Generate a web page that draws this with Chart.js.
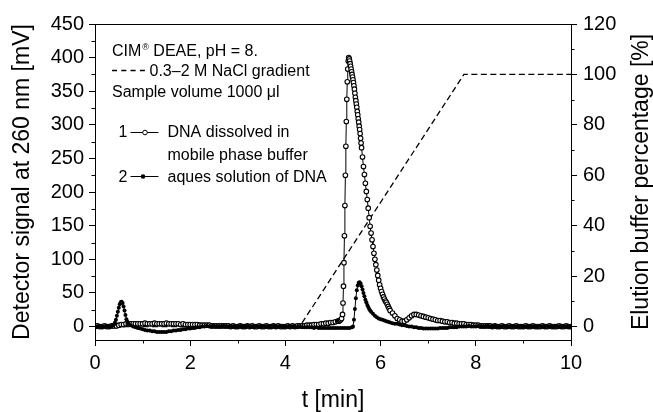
<!DOCTYPE html>
<html><head><meta charset="utf-8">
<script src="https://cdn.jsdelivr.net/npm/chart.js@4"></script>
<style>html,body{margin:0;padding:0;background:#fff}#wrap{width:653px;height:412px;position:relative}</style>
</head><body><div id="wrap"><canvas id="c"></canvas></div>
<script>
// ---- Tick labels ----
const xTicks = [0, 2, 4, 6, 8, 10];
const xMinor = [1, 3, 5, 7, 9];
const yTicks = [0, 50, 100, 150, 200, 250, 300, 350, 400, 450];
const yMinor = [25, 75, 125, 175, 225, 275, 325, 375, 425];
const y2Ticks = [0, 20, 40, 60, 80, 100, 120];
const y2Minor = [10, 30, 50, 70, 90, 110];
const rightTitle = 'Elution buffer percentage [%]';

// ---- Series 1: DNA dissolved in mobile phase buffer (open circles) ----
const t1 = [
0,0.05,0.1,0.15,0.2,0.25,0.3,0.35,0.4,0.45,
0.5,0.55,0.6,0.65,0.7,0.75,0.8,0.85,0.9,0.95,
1,1.05,1.1,1.15,1.2,1.25,1.3,1.35,1.4,1.45,
1.5,1.55,1.6,1.65,1.7,1.75,1.8,1.85,1.9,1.95,
2,2.05,2.1,2.15,2.2,2.25,2.3,2.35,2.4,2.45,
2.5,2.55,2.6,2.65,2.7,2.75,2.8,2.85,2.9,2.95,
3,3.05,3.1,3.15,3.2,3.25,3.3,3.35,3.4,3.45,
3.5,3.55,3.6,3.65,3.7,3.75,3.8,3.85,3.9,3.95,
4,4.05,4.1,4.15,4.2,4.25,4.3,4.35,4.4,4.45,
4.5,4.55,4.6,4.65,4.7,4.75,4.8,4.85,4.9,4.95,
5,5.05,5.1,
5.12,5.14,5.16,5.18,5.2,
5.21,5.22,5.23,5.24,5.25,5.26,5.27,5.28,5.29,5.3,
5.31,5.32,5.33,5.34,5.35,5.36,5.37,5.38,5.39,5.4,
5.41,5.42,5.43,5.44,5.45,5.46,5.47,5.48,5.49,5.5,
5.51,5.52,5.53,5.54,5.55,5.56,5.57,5.58,5.59,5.6,
5.62,5.64,5.66,5.68,5.7,5.72,5.74,5.76,5.78,5.8,
5.82,5.84,5.86,5.88,5.9,5.92,5.94,5.96,5.98,6,
6.02,6.04,6.06,6.08,6.1,6.12,6.14,6.16,6.18,6.2,
6.25,6.3,6.35,6.4,6.45,6.5,6.55,6.6,6.65,6.7,
6.75,6.8,6.85,6.9,6.95,7,7.05,7.1,7.15,7.2,
7.25,7.3,7.35,7.4,7.45,7.5,7.55,7.6,7.65,7.7,
7.75,7.8,7.85,7.9,7.95,8,8.05,8.1,8.15,8.2,
8.25,8.3,8.35,8.4,8.45,8.5,8.55,8.6,8.65,8.7,
8.75,8.8,8.85,8.9,8.95,9,9.05,9.1,9.15,9.2,
9.25,9.3,9.35,9.4,9.45,9.5,9.55,9.6,9.65,9.7,
9.75,9.8,9.85,9.9,9.95,10];
const v1 = [
0,1,0,0,1,0,0,1,1,1,
2,3,3,4,4,4,4,4,4,4,
4,5,4,4,4,5,4,4,4,4,
5,4,4,4,4,4,3,4,3,3,
3,3,3,3,2,2,2,2,2,1,
1,1,1,1,1,1,1,0,1,0,
0,1,0,0,1,0,1,0,0,1,
0,0,1,0,0,1,0,1,0,0,
0,1,0,1,0,1,1,1,1,2,
2,2,3,3,3,4,4,5,5,6,
6,7,8,
8,9,10,12,18,
35,60,95,135,180,225,268,305,338,364,
383,395,400,398,395,391,387,383,379,375,
371,367,363,358,353,347,341,336,331,326,
320,315,309,304,298,293,287,280,273,266,
252,238,226,213,201,189,176,162,149,139,
129,119,109,100,92,84,76,69,62,57,
52,48,44,41,38,36,33,30,27,24,
20,16,12,10,8,8,10,13,16,18,
18,17,16,15,14,13,12,11,10,9,
9,8,7,7,6,6,5,5,4,4,
4,3,3,3,2,2,2,1,1,1,
1,1,0,1,0,0,1,0,0,1,
0,0,1,0,0,0,1,0,0,1,
0,0,0,1,0,0,1,0,0,0,
1,0,0,1,0,0];

// ---- Series 2: aqueous solution of DNA (filled dots) ----
const t2 = [
0,0.05,0.1,0.15,0.2,0.25,0.3,0.35,
0.38,0.4,0.42,0.44,0.46,0.48,0.5,0.52,0.54,0.56,0.58,0.6,0.62,0.64,0.66,0.68,0.7,
0.75,0.8,0.85,0.9,0.95,
1,1.05,1.1,1.15,1.2,1.25,1.3,1.35,1.4,1.45,
1.5,1.55,1.6,1.65,1.7,1.75,1.8,1.85,1.9,1.95,
2,2.05,2.1,2.15,2.2,2.25,2.3,2.35,2.4,2.45,
2.5,2.55,2.6,2.65,2.7,2.75,2.8,2.85,2.9,2.95,
3,3.05,3.1,3.15,3.2,3.25,3.3,3.35,3.4,3.45,
3.5,3.55,3.6,3.65,3.7,3.75,3.8,3.85,3.9,3.95,
4,4.05,4.1,4.15,4.2,4.25,4.3,4.35,4.4,4.45,
4.5,4.55,4.6,4.65,4.7,4.75,4.8,4.85,4.9,4.95,
5,5.05,5.1,5.15,5.2,5.25,5.3,5.35,5.4,
5.42,5.44,5.46,5.48,5.5,5.52,5.54,5.56,5.58,5.6,
5.62,5.64,5.66,5.68,5.7,5.72,5.74,5.76,5.78,5.8,
5.84,5.88,5.92,5.96,6,6.04,6.08,6.12,6.16,6.2,
6.25,6.3,6.35,6.4,6.45,6.5,6.55,6.6,6.65,6.7,
6.75,6.8,6.85,6.9,6.95,7,7.05,7.1,7.15,7.2,
7.25,7.3,7.35,7.4,7.45,7.5,7.55,7.6,7.65,7.7,
7.75,7.8,7.85,7.9,7.95,8,8.05,8.1,8.15,8.2,
8.25,8.3,8.35,8.4,8.45,8.5,8.55,8.6,8.65,8.7,
8.75,8.8,8.85,8.9,8.95,9,9.05,9.1,9.15,9.2,
9.25,9.3,9.35,9.4,9.45,9.5,9.55,9.6,9.65,9.7,
9.75,9.8,9.85,9.9,9.95,10];
const v2 = [
0,0,1,0,0,1,0,1,
2,3,6,10,16,22,28,33,36,37,35,30,24,17,11,7,4,
2,0,-1,-2,-3,
-4,-5,-6,-6,-7,-7,-8,-8,-8,-8,
-8,-7,-7,-6,-6,-5,-5,-4,-4,-3,
-3,-2,-2,-1,-1,0,0,1,0,0,
1,0,0,0,1,0,0,1,0,0,
0,1,0,0,1,0,0,0,1,0,
0,1,0,0,0,1,0,0,1,0,
0,0,1,0,0,-1,0,-1,-1,-1,
-1,-1,-2,-1,-2,-2,-2,-2,-2,-2,
-2,-2,-2,-2,-2,-2,-2,-2,-1,
0,10,26,42,54,61,65,66,64,60,
55,50,45,40,36,32,29,26,24,22,
19,16,14,12,11,10,9,8,7,6,
5,4,4,3,2,2,1,0,0,-1,
-1,-2,-2,-3,-3,-3,-3,-3,-3,-3,
-2,-2,-2,-2,-1,-1,-1,-1,0,0,
0,0,1,0,0,0,1,0,0,0,
1,0,0,1,0,0,0,1,0,0,
0,1,0,0,1,0,0,0,1,0,
0,0,1,0,0,1,0,0,0,1,
0,0,1,0,0,0];

// ---- Gradient (right axis, %) ----
const tG = [0, 4.3, 7.75, 10];
const vG = [0, 0, 100, 100];

const pts = (t, v) => t.map((x, i) => ({x: x, y: v[i]}));
const FONT = "'Liberation Sans', Arial, Helvetica, sans-serif";

const decor = {
  id: 'decor',
  afterDraw(chart) {
    const {ctx, chartArea: a, scales} = chart;
    ctx.save();
    ctx.strokeStyle = '#000'; ctx.lineWidth = 1;
    ctx.beginPath();
    ctx.moveTo(a.left, a.top + 0.5); ctx.lineTo(a.right, a.top + 0.5);
    xMinor.forEach(v => { const p = Math.round(scales.x.getPixelForValue(v)) + 0.5; ctx.moveTo(p, a.bottom); ctx.lineTo(p, a.bottom + 3.5); });
    yMinor.forEach(v => { const p = Math.round(scales.y.getPixelForValue(v)) + 0.5; ctx.moveTo(a.left, p); ctx.lineTo(a.left - 3.5, p); });
    y2Minor.forEach(v => { const p = Math.round(scales.y2.getPixelForValue(v)) + 0.5; ctx.moveTo(a.right, p); ctx.lineTo(a.right + 3.5, p); });
    ctx.stroke();

    // right axis title, reading bottom-to-top
    ctx.save();
    ctx.font = '23px ' + FONT;
    ctx.fillStyle = '#000';
    ctx.textAlign = 'center'; ctx.textBaseline = 'middle';
    ctx.translate(642, (a.top + a.bottom) / 2);
    ctx.rotate(-Math.PI / 2);
    ctx.fillText(rightTitle, 0, 0);
    ctx.restore();

    // annotation / legend
    ctx.fillStyle = '#000';
    ctx.textBaseline = 'alphabetic';
    ctx.font = '16px ' + FONT;
    ctx.fillText('CIM', 112, 56);
    const w = ctx.measureText('CIM').width;
    ctx.font = '9px ' + FONT;
    ctx.fillText('®', 112 + w + 1, 50);
    ctx.font = '16px ' + FONT;
    ctx.fillText('DEAE, pH = 8.', 112 + w + 12, 56);

    ctx.save();
    ctx.lineWidth = 1.5; ctx.setLineDash([5, 4.3]);
    ctx.beginPath(); ctx.moveTo(112, 70.5); ctx.lineTo(146, 70.5); ctx.stroke();
    ctx.restore();
    ctx.fillText('0.3–2 M NaCl gradient', 149.5, 76);
    ctx.fillText('Sample volume 1000 μl', 112, 97);

    ctx.fillText('1', 118.5, 137);
    ctx.beginPath(); ctx.moveTo(130.5, 132.5); ctx.lineTo(158.5, 132.5); ctx.stroke();
    ctx.beginPath(); ctx.arc(145, 132.5, 2.3, 0, Math.PI * 2); ctx.fillStyle = '#fff'; ctx.fill(); ctx.stroke();
    ctx.fillStyle = '#000';
    ctx.fillText('DNA dissolved in', 167.5, 137);
    ctx.fillText('mobile phase buffer', 167.5, 160);

    ctx.fillText('2', 118.5, 182);
    ctx.beginPath(); ctx.moveTo(130.5, 176.5); ctx.lineTo(158.5, 176.5); ctx.stroke();
    ctx.beginPath(); ctx.arc(143, 176.5, 2.3, 0, Math.PI * 2); ctx.fill();
    ctx.fillText('aques solution of DNA', 167.5, 182);
    ctx.restore();
  }
};

const tickFont = {family: FONT, size: 20};
const titleFont = {family: FONT, size: 23, lineHeight: 1};

new Chart(document.getElementById('c'), {
  type: 'line',
  data: {
    datasets: [
      { label: 'DNA dissolved in mobile phase buffer', data: pts(t1, v1), yAxisID: 'y',
        borderColor: '#000', borderWidth: 1, pointRadius: 2.3, pointBorderWidth: 1.1,
        pointBackgroundColor: '#fff', pointBorderColor: '#000', tension: 0, order: 2 },
      { label: 'aques solution of DNA', data: pts(t2, v2), yAxisID: 'y',
        borderColor: '#000', borderWidth: 1, pointRadius: 2, pointBorderWidth: 0,
        pointBackgroundColor: '#000', tension: 0, order: 1 },
      { label: '0.3–2 M NaCl gradient', data: pts(tG, vG), yAxisID: 'y2',
        borderColor: '#000', borderWidth: 1.3, borderDash: [6, 3.5], pointRadius: 0,
        tension: 0, order: 3 }
    ]
  },
  options: {
    responsive: true, maintainAspectRatio: false, animation: false,
    layout: { padding: { top: 24, left: 0, right: 0, bottom: 0 } },
    plugins: { legend: { display: false }, tooltip: { enabled: false } },
    scales: {
      x: {
        type: 'linear', position: 'bottom', min: 0, max: 10,
        afterBuildTicks: s => { s.ticks = xTicks.map(v => ({value: v})); },
        afterFit: s => { s.height = 72; },
        ticks: { font: tickFont, color: '#000', padding: 5, maxRotation: 0, autoSkip: false },
        grid: { drawOnChartArea: false, drawTicks: true, tickLength: 6, tickColor: '#000' },
        border: { color: '#000', width: 1 },
        title: { display: true, text: 't [min]', font: titleFont, color: '#000', padding: { top: 0, bottom: 0 } }
      },
      y: {
        type: 'linear', position: 'left', min: -20, max: 450,
        afterBuildTicks: s => { s.ticks = yTicks.map(v => ({value: v})); },
        afterFit: s => { s.width = 95; },
        ticks: { font: tickFont, color: '#000', padding: 5, autoSkip: false },
        grid: { drawOnChartArea: false, drawTicks: true, tickLength: 6, tickColor: '#000' },
        border: { color: '#000', width: 1 },
        title: { display: true, text: 'Detector signal at 260 nm [mV]', font: titleFont, color: '#000', padding: { top: 11, bottom: 0 } }
      },
      y2: {
        type: 'linear', position: 'right', min: -20 * 120 / 450, max: 120,
        afterBuildTicks: s => { s.ticks = y2Ticks.map(v => ({value: v})); },
        afterFit: s => { s.width = 82; },
        ticks: { font: tickFont, color: '#000', padding: 6, autoSkip: false },
        grid: { drawOnChartArea: false, drawTicks: true, tickLength: 6, tickColor: '#000' },
        border: { color: '#000', width: 1 },
        title: { display: false }
      }
    }
  },
  plugins: [decor]
});
</script></body></html>
